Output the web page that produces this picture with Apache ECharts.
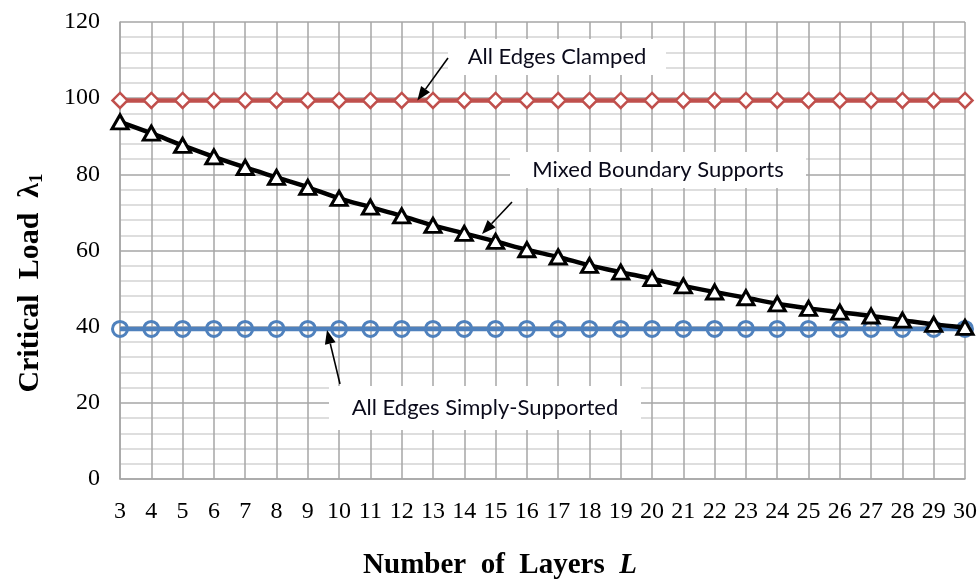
<!DOCTYPE html>
<html>
<head>
<meta charset="utf-8">
<script src="https://cdn.jsdelivr.net/npm/echarts@6/dist/echarts.min.js"></script>
<style>html,body{margin:0;padding:0;background:#fff}#c{width:980px;height:581px}</style>
</head>
<body>
<div id="c"></div>
<script>
const layers = ['3','4','5','6','7','8','9','10','11','12','13','14','15','16','17','18','19','20','21','22','23','24','25','26','27','28','29','30'];
const clamped = [99.4,99.4,99.4,99.4,99.4,99.4,99.4,99.4,99.4,99.4,99.4,99.4,99.4,99.4,99.4,99.4,99.4,99.4,99.4,99.4,99.4,99.4,99.4,99.4,99.4,99.4,99.4,99.4];
const simply = [39.4,39.4,39.4,39.4,39.4,39.4,39.4,39.4,39.4,39.4,39.4,39.4,39.4,39.4,39.4,39.4,39.4,39.4,39.4,39.4,39.4,39.4,39.4,39.4,39.4,39.4,39.4,39.4];
const mixed = [93.8,90.8,87.6,84.6,81.8,79.2,76.6,73.7,71.4,69.1,66.6,64.5,62.4,60.2,58.3,56.1,54.3,52.6,50.7,49.1,47.6,46.0,44.8,43.8,42.8,41.7,40.6,39.8];
const yTicks = [0,20,40,60,80,100,120];

const chart = echarts.init(document.getElementById('c'));
const G = {left:120, right:15, top:22, bottom:102};
const W = 980, H = 581;
const gw = W - G.left - G.right, gh = H - G.top - G.bottom;
function px(x){ return G.left + (x - 3) / 27 * gw; }
function py(v){ return G.top + gh - v / 120 * gh; }

const labelFont = 'Lato, "Open Sans", sans-serif';
function box(cx, cy, w, h, text){
  return [
    {type:'rect', shape:{x:cx - w/2, y:cy - h/2, width:w, height:h}, style:{fill:'#fff'}, z:50},
    {type:'text', x:cx, y:cy, style:{text:text, fill:'#0a0a1a', font:'22px ' + labelFont, textAlign:'center', textVerticalAlign:'middle'}, z:51}
  ];
}
function arrow(x1,y1,x2,y2){
  const ang = Math.atan2(y2-y1, x2-x1), L = 14, Wd = 5.5;
  const bx = x2 - L*Math.cos(ang), by = y2 - L*Math.sin(ang);
  const nx = -Math.sin(ang), ny = Math.cos(ang);
  return [
    {type:'line', shape:{x1:x1,y1:y1,x2:bx,y2:by}, style:{stroke:'#000', lineWidth:1.6}, z:52},
    {type:'polygon', shape:{points:[[x2,y2],[bx+nx*Wd,by+ny*Wd],[bx-nx*Wd,by-ny*Wd]]}, style:{fill:'#000'}, z:52}
  ];
}

const graphics = [].concat(
  box(557, 57, 218, 36, 'All Edges Clamped'),
  arrow(448, 58, px(12.5), py(99.4)),
  box(658, 170, 296, 36, 'Mixed Boundary Supports'),
  arrow(512, 202, 482, 234),
  box(485, 408, 312, 44, 'All Edges Simply-Supported'),
  arrow(340, 384, 327, py(39.4) + 1),
  [
    {type:'text', x:500, y:566, style:{rich:{b:{font:'bold 29px "Liberation Serif", serif', fill:'#000'}, i:{font:'italic bold 29px "Liberation Serif", serif', fill:'#000'}}, text:'{b|Number  of  Layers  }{i|L}', textAlign:'center', textVerticalAlign:'middle'}, z:60},
    {type:'text', x:30, y:283, rotation:Math.PI/2, style:{rich:{b:{font:'bold 30px "Liberation Serif", serif', fill:'#000'}, s:{font:'bold 19px "Liberation Serif", serif', fill:'#000', padding:[15,0,0,0]}}, text:'{b|Critical  Load  \u03bb}{s|1}', textAlign:'center', textVerticalAlign:'middle'}, z:60}
  ]
);

chart.setOption({
  animation:false,
  backgroundColor:'#fff',
  grid:G,
  xAxis:{
    type:'category', data:layers, boundaryGap:false,
    axisLine:{lineStyle:{color:'#a6a6a6', width:1.5}},
    axisTick:{show:false},
    axisLabel:{interval:0, color:'#000', fontSize:24, fontFamily:'"Liberation Serif", serif', margin:21},
    splitLine:{show:true, interval:0, lineStyle:{color:'#a6a6a6', width:1.5}}
  },
  yAxis:{
    type:'value', min:0, max:120, interval:20,
    axisLine:{show:true, lineStyle:{color:'#a6a6a6', width:1.5}},
    axisTick:{show:false},
    axisLabel:{color:'#000', fontSize:24, fontFamily:'"Liberation Serif", serif', margin:20},
    splitLine:{show:true, lineStyle:{color:'#a6a6a6', width:1.5}},
    minorTick:{show:false, splitNumber:5},
    minorSplitLine:{show:true, lineStyle:{color:'#d4d4d4', width:1.5}}
  },
  series:[
    {type:'line', data:clamped, symbol:'diamond', symbolSize:15, showAllSymbol:true,
      lineStyle:{color:'#c0504d', width:4.5}, itemStyle:{color:'#fff', borderColor:'#c0504d', borderWidth:2.5}, z:3},
    {type:'line', data:simply, symbol:'circle', symbolSize:15, showAllSymbol:true,
      lineStyle:{color:'#4f81bd', width:4.5}, itemStyle:{color:'rgba(255,255,255,0)', borderColor:'#4f81bd', borderWidth:3}, z:3},
    {type:'line', data:mixed, symbol:'triangle', symbolSize:[16,14], showAllSymbol:true, smooth:0.3,
      lineStyle:{color:'#000', width:4.5}, itemStyle:{color:'#fff', borderColor:'#000', borderWidth:3}, z:4}
  ],
  graphic:graphics
});
</script>
</body>
</html>
